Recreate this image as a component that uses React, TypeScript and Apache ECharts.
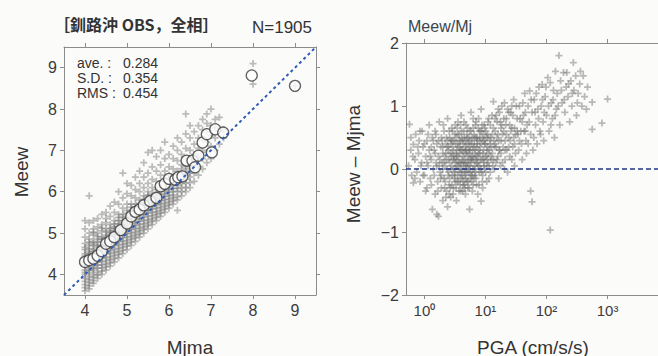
import React, { useEffect, useRef } from "react";
import * as echarts from "echarts";

// ---------- data ----------
const titleText = "［釧路沖 OBS，全相］";
const countText = "N=1905";
const statLabels = ["ave. :", "S.D. :", "RMS :"];
const statValues = ["0.284", "0.354", "0.454"];

const mjmaTicks = [4, 5, 6, 7, 8, 9];
const meewTicks = [4, 5, 6, 7, 8, 9];
const pgaTicks = [1, 10, 100, 1000];
const diffTicks = [-2, -1, 0, 1, 2];

// Mjma vs Meew, individual events (grey crosses)
const meewPoints: number[][] = [
  [4.0,3.6],[4.0,3.75],[4.0,3.9],[4.0,4.0],[4.0,4.1],[4.0,4.2],[4.0,4.3],[4.0,4.4],[4.0,4.5],[4.0,4.6],[4.0,4.75],[4.0,4.9],[4.0,5.1],
  [4.1,3.65],[4.1,3.8],[4.1,3.95],[4.1,4.05],[4.1,4.15],[4.1,4.25],[4.1,4.35],[4.1,4.45],[4.1,4.55],[4.1,4.7],[4.1,4.85],[4.1,5.0],[4.1,5.25],[4.1,5.9],
  [4.2,3.85],[4.2,4.0],[4.2,4.1],[4.2,4.2],[4.2,4.3],[4.2,4.4],[4.2,4.5],[4.2,4.6],[4.2,4.7],[4.2,4.8],[4.2,4.95],[4.2,5.1],[4.2,5.3],
  [4.3,3.9],[4.3,4.05],[4.3,4.15],[4.3,4.3],[4.3,4.4],[4.3,4.5],[4.3,4.6],[4.3,4.7],[4.3,4.85],[4.3,5.0],[4.3,5.15],[4.3,5.35],
  [4.4,4.0],[4.4,4.15],[4.4,4.3],[4.4,4.4],[4.4,4.5],[4.4,4.6],[4.4,4.7],[4.4,4.8],[4.4,4.9],[4.4,5.05],[4.4,5.2],[4.4,5.45],
  [4.5,4.1],[4.5,4.25],[4.5,4.4],[4.5,4.55],[4.5,4.65],[4.5,4.75],[4.5,4.85],[4.5,4.95],[4.5,5.1],[4.5,5.25],[4.5,5.5],
  [4.6,4.2],[4.6,4.35],[4.6,4.5],[4.6,4.65],[4.6,4.75],[4.6,4.85],[4.6,4.95],[4.6,5.05],[4.6,5.2],[4.6,5.4],[4.6,5.65],
  [4.7,4.3],[4.7,4.45],[4.7,4.6],[4.7,4.75],[4.7,4.85],[4.7,4.95],[4.7,5.05],[4.7,5.15],[4.7,5.3],[4.7,5.5],[4.7,5.75],
  [4.8,4.4],[4.8,4.55],[4.8,4.7],[4.8,4.85],[4.8,4.95],[4.8,5.05],[4.8,5.15],[4.8,5.3],[4.8,5.45],[4.8,5.7],[4.8,6.0],
  [4.9,4.5],[4.9,4.65],[4.9,4.8],[4.9,4.95],[4.9,5.1],[4.9,5.2],[4.9,5.3],[4.9,5.45],[4.9,5.6],[4.9,5.85],[4.9,6.45],
  [5.0,4.6],[5.0,4.75],[5.0,4.9],[5.0,5.05],[5.0,5.2],[5.0,5.3],[5.0,5.4],[5.0,5.55],[5.0,5.7],[5.0,5.95],[5.0,6.2],
  [5.1,4.7],[5.1,4.85],[5.1,5.0],[5.1,5.15],[5.1,5.3],[5.1,5.4],[5.1,5.55],[5.1,5.7],[5.1,5.9],[5.1,6.15],
  [5.2,4.8],[5.2,4.95],[5.2,5.1],[5.2,5.25],[5.2,5.4],[5.2,5.55],[5.2,5.7],[5.2,5.85],[5.2,6.05],[5.2,6.35],
  [5.3,4.9],[5.3,5.05],[5.3,5.2],[5.3,5.35],[5.3,5.5],[5.3,5.65],[5.3,5.8],[5.3,6.0],[5.3,6.2],[5.3,6.5],
  [5.4,5.0],[5.4,5.15],[5.4,5.3],[5.4,5.45],[5.4,5.6],[5.4,5.75],[5.4,5.9],[5.4,6.1],[5.4,6.35],[5.4,6.7],
  [5.5,5.1],[5.5,5.25],[5.5,5.4],[5.5,5.55],[5.5,5.7],[5.5,5.85],[5.5,6.0],[5.5,6.2],[5.5,6.45],[5.5,6.95],
  [5.6,5.2],[5.6,5.35],[5.6,5.5],[5.6,5.65],[5.6,5.8],[5.6,5.95],[5.6,6.1],[5.6,6.3],[5.6,6.6],[5.6,7.0],
  [5.7,5.3],[5.7,5.45],[5.7,5.6],[5.7,5.75],[5.7,5.9],[5.7,6.05],[5.7,6.25],[5.7,6.5],[5.7,6.85],
  [5.8,5.4],[5.8,5.55],[5.8,5.7],[5.8,5.85],[5.8,6.0],[5.8,6.2],[5.8,6.4],[5.8,6.65],[5.8,7.0],
  [5.9,5.5],[5.9,5.65],[5.9,5.8],[5.9,5.95],[5.9,6.1],[5.9,6.3],[5.9,6.5],[5.9,6.8],[5.9,7.2],
  [6.0,5.6],[6.0,5.75],[6.0,5.9],[6.0,6.05],[6.0,6.2],[6.0,6.4],[6.0,6.6],[6.0,6.9],
  [6.1,5.7],[6.1,5.85],[6.1,6.0],[6.1,6.15],[6.1,6.35],[6.1,6.55],[6.1,6.8],[6.1,7.1],
  [6.2,5.55],[6.2,5.8],[6.2,6.0],[6.2,6.15],[6.2,6.3],[6.2,6.5],[6.2,6.75],[6.2,7.0],[6.2,7.3],
  [6.3,5.9],[6.3,6.1],[6.3,6.3],[6.3,6.45],[6.3,6.65],[6.3,6.9],[6.3,7.2],
  [6.4,6.0],[6.4,6.2],[6.4,6.4],[6.4,6.6],[6.4,6.8],[6.4,7.05],[6.4,7.4],[6.4,7.88],
  [6.5,6.1],[6.5,6.35],[6.5,6.55],[6.5,6.75],[6.5,7.0],[6.5,7.3],[6.5,7.6],
  [6.6,6.25],[6.6,6.45],[6.6,6.7],[6.6,6.9],[6.6,7.15],[6.6,7.45],
  [6.7,6.4],[6.7,6.6],[6.7,6.85],[6.7,7.05],[6.7,7.3],[6.7,7.6],
  [6.8,6.55],[6.8,6.8],[6.8,7.0],[6.8,7.25],[6.8,7.5],[6.8,7.75],
  [6.9,6.7],[6.9,6.95],[6.9,7.2],[6.9,7.45],[6.9,7.65],[6.9,7.88],
  [7.0,6.8],[7.0,7.1],[7.0,7.35],[7.0,7.6],[7.0,8.0],
  [7.1,7.0],[7.1,7.3],[7.1,7.55],[7.1,7.75],
  [7.2,7.15],[7.2,7.45],[7.2,7.8],
  [7.3,7.3],[7.3,7.5],
  [8.0,8.6],[8.0,9.1],[9.0,8.56],
  [4.0,3.68],[4.0,3.83],[4.0,4.05],[4.0,4.25],[4.0,4.45],[4.0,4.65],[4.0,5.3],
  [4.1,3.72],[4.1,3.88],[4.1,4.1],[4.1,4.3],[4.1,4.5],[4.1,4.62],[4.1,4.78],
  [4.2,3.78],[4.2,3.93],[4.2,4.15],[4.2,4.35],[4.2,4.55],[4.2,4.75],[4.2,5.02],
  [4.3,3.98],[4.3,4.22],[4.3,4.43],[4.3,4.65],[4.3,4.78],[4.3,4.92],
  [4.4,4.08],[4.4,4.23],[4.4,4.45],[4.4,4.65],[4.4,4.85],[4.4,5.12],
  [4.5,4.18],[4.5,4.33],[4.5,4.5],[4.5,4.7],[4.5,4.9],[4.5,5.02],[4.5,5.35],
  [4.6,4.28],[4.6,4.43],[4.6,4.58],[4.6,4.8],[4.6,5.0],[4.6,5.12],
  [4.7,4.38],[4.7,4.53],[4.7,4.7],[4.7,4.9],[4.7,5.1],[4.7,5.22],
  [4.8,4.48],[4.8,4.63],[4.8,4.8],[4.8,5.0],[4.8,5.22],[4.8,5.38],
  [4.9,4.58],[4.9,4.73],[4.9,4.88],[4.9,5.02],[4.9,5.25],[4.9,5.38],
  [5.0,4.68],[5.0,4.82],[5.0,4.98],[5.0,5.12],[5.0,5.35],[5.0,5.48],
  [5.1,4.78],[5.1,4.92],[5.1,5.08],[5.1,5.22],[5.1,5.48],[5.1,5.62],
  [5.2,4.88],[5.2,5.02],[5.2,5.18],[5.2,5.33],[5.2,5.48],[5.2,5.62],
  [5.3,4.98],[5.3,5.12],[5.3,5.28],[5.3,5.42],[5.3,5.58],[5.3,5.72],
  [5.4,5.08],[5.4,5.22],[5.4,5.38],[5.4,5.52],[5.4,5.68],[5.4,5.82],
  [5.5,5.18],[5.5,5.32],[5.5,5.48],[5.5,5.62],[5.5,5.78],[5.5,5.92],
  [5.6,5.28],[5.6,5.42],[5.6,5.58],[5.6,5.72],[5.6,5.88],
  [5.7,5.38],[5.7,5.52],[5.7,5.68],[5.7,5.82],[5.7,5.98],
  [5.8,5.48],[5.8,5.62],[5.8,5.78],[5.8,5.92],[5.8,6.1],
  [5.9,5.58],[5.9,5.72],[5.9,5.88],[5.9,6.02],[5.9,6.2],
  [6.0,5.68],[6.0,5.82],[6.0,5.98],[6.0,6.12],[6.0,6.3],
  [6.1,5.78],[6.1,5.92],[6.1,6.08],[6.1,6.25],
  [6.2,5.88],[6.2,6.08],[6.2,6.22],[6.2,6.4],
  [6.3,6.0],[6.3,6.2],[6.3,6.38],[6.3,6.55],
  [6.4,6.1],[6.4,6.3],[6.4,6.5],
  [6.5,6.22],[6.5,6.45],[6.5,6.65]
];

// bin means (open circles)
const meanPoints: number[][] = [
  [4.0,4.30],[4.1,4.34],[4.2,4.38],[4.3,4.45],[4.4,4.56],[4.5,4.74],[4.6,4.80],[4.7,4.90],
  [4.85,5.07],[5.0,5.23],[5.1,5.40],[5.2,5.51],[5.3,5.57],[5.4,5.67],[5.55,5.77],[5.7,5.85],
  [5.8,6.13],[5.9,6.19],[6.0,6.31],[6.15,6.29],[6.22,6.35],[6.32,6.37],[6.42,6.75],[6.56,6.75],
  [6.62,6.59],[6.7,6.87],[6.8,7.19],[6.9,7.39],[7.02,6.95],[7.1,7.51],[7.29,7.43],
  [7.97,8.81],[9.0,8.56]
];

// PGA (cm/s/s) vs Meew - Mjma
const diffPoints: number[][] = [
  [0.55,0.05],[0.57,0.71],[0.6,0.3],[0.62,-0.1],[0.66,0.39],[0.66,-0.22],[0.7,0.15],[0.72,0.55],[0.75,-0.05],[0.8,0.25],[0.82,0.45],[0.85,-0.2],[0.9,0.1],[0.92,0.6],[0.95,0.35],
  [1.0,-0.1],[1.05,0.2],[1.1,0.45],[1.1,-0.3],[1.15,0.05],[1.2,0.3],[1.2,0.7],[1.25,-0.15],[1.3,0.15],[1.35,-0.64],[1.35,0.5],[1.4,0.0],[1.45,0.3],[1.5,-0.4],[1.5,0.6],[1.55,0.1],[1.6,-0.72],[1.6,0.4],[1.65,-0.2],[1.7,-0.75],[1.7,0.2],[1.75,0.75],[1.8,-0.05],[1.85,0.35],[1.9,-0.3],[1.9,0.5],[1.95,0.1],
  [2.0,-0.5],[2.0,0.25],[2.1,-0.15],[2.1,0.6],[2.2,0.05],[2.2,0.4],[2.3,-0.35],[2.3,0.15],[2.4,-0.6],[2.4,0.8],[2.45,0.3],[2.5,-0.05],[2.55,-0.25],[2.6,0.5],[2.6,0.1],[2.7,-0.45],[2.75,0.2],[2.8,0.65],[2.85,-0.1],[2.9,0.35],[3.0,-0.3],[3.0,0.0],[3.05,0.45],[3.1,0.15],[3.2,-0.2],[3.2,0.7],[3.3,0.25],[3.35,-0.5],[3.4,0.05],[3.5,0.4],[3.5,-0.1],[3.6,0.2],[3.7,-0.35],[3.7,0.55],[3.8,0.1],[3.9,-0.15],[3.9,0.3],[4.0,0.85],[4.1,0.0],[4.2,0.45],[4.3,-0.25],[4.3,0.2],[4.4,0.6],[4.5,-0.05],[4.6,0.35],[4.7,-0.4],[4.7,0.1],[4.8,0.7],[4.9,0.25],[5.0,-0.2],
  [5.0,0.5],[5.2,0.05],[5.3,0.3],[5.4,-0.3],[5.5,-0.64],[5.5,0.6],[5.7,0.15],[5.8,0.9],[5.9,-0.1],[6.0,0.4],[6.2,0.2],[6.3,-0.25],[6.5,0.55],[6.6,0.0],[6.8,0.3],[7.0,0.75],[7.0,-0.15],[7.2,0.1],[7.4,0.45],[7.5,-0.4],[7.7,0.25],[7.9,0.6],[8.0,0.05],[8.2,0.35],[8.5,-0.51],[8.5,0.95],[8.7,0.15],[8.9,0.5],[9.0,-0.1],[9.3,0.3],[9.5,0.7],[9.7,0.0],[10,0.4],[10.3,0.2],[10.5,-0.2],[10.8,0.55],[11,0.1],[11.3,0.8],[11.6,0.3],[12,-0.05],[12.3,0.5],
  [13,0.25],[13.5,0.65],[13.5,1.07],[14,0.0],[14.5,0.4],[15,0.85],[15.5,0.15],[16,0.55],[16.5,-0.15],[17,0.3],[17.5,0.75],[18,0.45],[18.5,1.0],[19,0.1],[20,0.6],[20.5,1.05],[21,0.3],[22,0.8],[23,-0.05],[24,0.5],[25,0.2],[26,0.9],[27,0.65],[28,0.35],[29,1.1],[30,0.05],[31,0.55],
  [33,0.8],[35,0.3],[36,1.0],[38,0.6],[40,0.15],[42,0.85],[44,1.2],[46,0.45],[48,0.7],[50,1.0],[53,1.24],[55,-0.35],[55,0.55],[58,-0.52],[58,0.9],[60,0.3],[63,1.1],[66,0.7],[70,0.4],[72,0.95],[75,1.3],[78,0.6],
  [82,1.0],[85,1.34],[88,0.75],[90,0.45],[95,1.15],[100,0.85],[105,1.45],[110,0.6],[115,-0.97],[115,1.37],[120,1.05],[125,0.8],[130,1.25],[135,0.5],[140,1.55],[145,0.95],[150,1.2],[160,1.8],[165,0.7],[170,1.4],[180,1.05],[190,1.53],
  [200,0.9],[210,1.3],[215,1.53],[225,1.15],[240,0.75],[250,1.4],[260,1.0],[275,1.69],[280,1.25],[300,1.48],[310,0.85],[330,1.2],[350,1.35],[380,1.0],[400,1.48],[420,1.15],[450,0.95],[470,1.3],
  [560,0.63],[560,1.06],[810,0.73],[1000,1.11],
  [2.2,-0.2],[2.5,0.35],[2.8,0.05],[3.1,-0.05],[3.3,0.5],[3.6,-0.2],[3.8,0.35],[4.0,0.1],[4.2,-0.1],[4.5,0.25],[4.8,-0.15],[5.1,0.2],[5.4,0.45],[5.7,-0.05],[6.0,0.15],[6.4,0.35],[6.7,-0.1],[7.1,0.2],[7.6,0.05],[8.1,0.25],[8.6,-0.05],[9.2,0.15],[9.8,0.4],[10.5,0.05],[11.2,0.25],[12,0.45],
  [2.3,0.5],[2.9,0.6],[3.4,0.3],[4.1,0.5],[4.9,0.4],[5.6,0.3],[6.3,0.65],[7.3,0.5],[8.3,0.6],[9.4,0.55],[10.8,0.35],[12.5,0.15],[14,0.35],[16,0.2],[18,0.65],[21,0.45],[25,0.7],[30,0.4],
  [2.0,0.0],[2.6,-0.15],[3.2,0.1],[3.9,0.7],[4.6,-0.3],[5.3,-0.05],[6.1,-0.35],[7.8,-0.25],[9.0,-0.3],[1.8,0.15],[1.5,0.25],[1.3,0.35],[2.7,0.4],[3.5,0.55],[4.4,-0.2],
  [1.6,0.05],[1.7,0.45],[1.9,-0.1],[2.0,0.35],[2.1,0.1],[2.15,-0.3],[2.25,0.25],[2.35,0.0],[2.4,0.45],[2.5,0.15],[2.55,-0.4],[2.65,0.25],[2.7,0.0],[2.8,-0.25],[2.85,0.45],[2.95,0.15],[3.0,0.3],[3.1,-0.15],[3.15,0.55],[3.25,0.0],[3.3,-0.3],[3.4,0.2],[3.45,0.65],[3.55,0.05],[3.6,0.35],[3.7,-0.05],[3.75,0.25],[3.85,-0.25],[3.9,0.45],[4.0,-0.05],[4.05,0.3],[4.15,0.15],[4.25,-0.35],[4.3,0.4],[4.4,0.05],[4.5,0.5],[4.55,0.15],[4.65,-0.1],[4.75,0.3],[4.85,0.05],[4.95,0.55],[5.05,0.1],[5.15,-0.3],[5.25,0.4],[5.35,0.15],[5.45,0.25],[5.6,0.05],[5.75,0.45],[5.85,0.2],[5.95,-0.2],[6.1,0.5],[6.25,0.0],[6.4,0.15],[6.55,0.4],[6.7,0.25],[6.9,-0.05],[7.0,0.5],[7.2,0.35],[7.4,0.1],[7.6,0.65],[7.8,0.3],[8.0,0.45],[8.3,0.15],[8.6,0.4],[8.8,0.7],[9.1,0.25],[9.4,0.05],[9.6,0.45],[9.9,0.2],[10.2,0.6],[10.6,0.3],[11,0.5],[11.5,0.05],[12,0.7],[12.5,0.35],[13,0.55],[13.5,0.15],[14.5,0.6],[15,0.35],[15.5,0.75],[16.5,0.45],[17,0.9],[18,0.25],[19,0.55],[20,0.8],[21,0.15],[22,0.55],[23,0.95],[24,0.35],[26,0.6],[27,0.15],[28,0.85],[30,0.65],[32,1.0],[34,0.55],[37,0.8],[39,0.4],[41,1.05],[43,0.6],[45,0.9],[47,0.25],[52,0.75],[56,1.1],[62,0.5],[65,0.9],[68,1.2],[74,0.8],[80,0.55],[86,1.1],[92,0.9],[98,1.3],[108,1.0],[118,0.7],[128,1.1],[138,0.85],[155,1.0],[175,1.25],[195,1.1],[230,1.35],[265,1.2],[320,1.05],[360,1.55],
  [1.55,0.55],[1.65,-0.35],[1.75,0.05],[1.85,-0.15],[1.95,0.45],[2.05,0.7],[2.15,0.2],[2.25,-0.45],[2.35,0.35],[2.45,-0.1],[2.55,0.6],[2.65,-0.3],[2.75,0.45],[2.85,0.25],[2.95,-0.4],[3.05,0.2],[3.15,-0.1],[3.25,0.4],[3.35,0.15],[3.45,-0.2],[3.55,0.75],[3.65,0.1],[3.75,0.45],[3.85,0.0],[3.95,-0.35],[4.05,0.6],[4.15,-0.15],[4.25,0.3],[4.35,0.1],[4.45,0.75],[4.55,-0.25],[4.65,0.45],[4.75,0.0],[4.85,0.3],[4.95,-0.05],[5.1,0.65],[5.2,-0.2],[5.3,0.5],[5.45,0.0],[5.55,0.35],[5.65,-0.15],[5.8,0.6],[5.9,0.1],[6.05,-0.1],[6.15,0.3],[6.3,0.8],[6.45,-0.15],[6.6,0.5],[6.75,0.05],[6.85,0.7],[7.0,0.15],[7.15,-0.25],[7.3,0.4],[7.5,0.2],[7.7,0.8],[7.9,-0.05],[8.1,0.5],[8.4,0.0],[8.7,0.6],[8.9,-0.2],[9.2,0.45],[9.5,0.1],[9.8,0.65],[10.1,-0.05],[10.4,0.5],[10.7,0.15],[11,0.75],[11.4,-0.15],[11.8,0.4],[12.2,0.2],[12.8,0.85],[13.2,0.05],[13.8,0.45],[14.3,0.8],[14.8,0.1],[15.4,0.5],[16.2,0.95],[16.8,0.3],[17.6,0.05],[18.4,0.7],[19.5,0.35],[20.5,0.0],[21.5,0.7],[22.5,0.3],[24,0.9],[25.5,0.45],[27,1.0],[29,0.5],[31,0.25],[33,0.6],[36,0.45],[40,0.75],[45,0.6],[50,0.4],
  [0.6,0.5],[0.65,0.2],[0.7,-0.15],[0.78,0.35],[0.85,0.6],[0.88,0.05],[0.95,-0.1],[1.0,0.4],[1.05,-0.35],[1.1,0.1],[1.15,0.55],[1.25,0.2],[1.3,-0.25],[1.4,0.45],[1.45,-0.1]
];

const oneToOne: number[][] = [[3.5, 3.5], [9.5, 9.5]];
const zeroLine: number[][] = [[0.5, 0], [6700, 0]];

// ---------- styling ----------
const FONT = "'Liberation Sans', Arial, sans-serif";
const AX = "#8c8c8c";
const LBL = "#3c3c3c";
const PLUS = "path://M3,0H5V3H8V5H5V8H3V5H0V3H3Z";
const SUP = ["⁰", "¹", "²", "³"];

function valueAxis(gridIndex: number, position: string, min: number, max: number, ticks: number[], showLabel: boolean, extra: any = {}) {
  return {
    type: "value",
    gridIndex,
    position,
    min,
    max,
    splitLine: { show: false },
    axisLine: { show: true, onZero: false, lineStyle: { color: AX, width: 1 } },
    axisTick: { show: true, inside: false, length: 4, customValues: ticks, lineStyle: { color: AX } },
    axisLabel: {
      show: showLabel,
      customValues: ticks,
      fontSize: 16,
      color: LBL,
      fontFamily: FONT,
      margin: 7,
      formatter: (v: number) => (v < 0 ? "−" + Math.abs(v) : String(v)),
    },
    ...extra,
  };
}

function logAxis(gridIndex: number, position: string, showLabel: boolean) {
  return {
    type: "log",
    logBase: 10,
    gridIndex,
    position,
    min: 0.5,
    max: 6700,
    splitLine: { show: false },
    minorTick: { show: false },
    axisLine: { show: true, onZero: false, lineStyle: { color: AX, width: 1 } },
    axisTick: { show: true, inside: false, length: 4, customValues: pgaTicks, lineStyle: { color: AX } },
    axisLabel: {
      show: showLabel,
      customValues: pgaTicks,
      fontSize: 15,
      color: LBL,
      fontFamily: FONT,
      margin: 8,
      formatter: (v: number) => "10" + SUP[Math.round(Math.log10(v))],
    },
  };
}

export default function App() {
  const ref = useRef<HTMLDivElement>(null);
  useEffect(() => {
    if (!ref.current) return;
    const chart = echarts.init(ref.current, null, { renderer: "svg" });
    const option: any = {
      animation: false,
      backgroundColor: "#fbfbfa",
      grid: [
        { left: 64, top: 47, width: 252, height: 248 },
        { left: 406, top: 43, width: 260, height: 252 },
      ],
      xAxis: [
        valueAxis(0, "bottom", 3.5, 9.5, mjmaTicks, true),
        valueAxis(0, "top", 3.5, 9.5, mjmaTicks, false),
        logAxis(1, "bottom", true),
        logAxis(1, "top", false),
      ],
      yAxis: [
        valueAxis(0, "left", 3.5, 9.5, meewTicks, true),
        valueAxis(0, "right", 3.5, 9.5, meewTicks, false),
        valueAxis(1, "left", -2, 2, diffTicks, true, { interval: 1 }),
        valueAxis(1, "right", -2, 2, diffTicks, false, { interval: 1 }),
      ],
      series: [
        {
          type: "scatter",
          xAxisIndex: 0,
          yAxisIndex: 0,
          data: meewPoints,
          symbol: PLUS,
          symbolSize: 7,
          silent: true,
          itemStyle: { color: "rgba(105,105,105,0.55)" },
        },
        {
          type: "line",
          xAxisIndex: 0,
          yAxisIndex: 0,
          data: oneToOne,
          symbol: "none",
          silent: true,
          lineStyle: { color: "#2f5bb5", width: 2, type: [3, 3] },
        },
        {
          type: "scatter",
          xAxisIndex: 0,
          yAxisIndex: 0,
          data: meanPoints,
          symbol: "circle",
          symbolSize: 11,
          silent: true,
          itemStyle: { color: "#ffffff", borderColor: "#3a3a3a", borderWidth: 1.3 },
        },
        {
          type: "scatter",
          xAxisIndex: 2,
          yAxisIndex: 2,
          data: diffPoints,
          symbol: PLUS,
          symbolSize: 7,
          silent: true,
          itemStyle: { color: "rgba(110,110,110,0.6)" },
        },
        {
          type: "line",
          xAxisIndex: 2,
          yAxisIndex: 2,
          data: zeroLine,
          symbol: "none",
          silent: true,
          lineStyle: { color: "#25368a", width: 1.6, type: [5, 3] },
        },
      ],
      graphic: [
        { type: "text", left: 54, top: 16, style: { text: titleText, font: "bold 16px 'Noto Sans CJK JP'", fill: "#333" } },
        { type: "text", left: 252, top: 19, style: { text: countText, font: `17px ${FONT}`, fill: "#333" } },
        ...statLabels.map((t, i) => ({ type: "text", left: 77, top: 56 + i * 15, style: { text: t, font: `14px ${FONT}`, fill: "#333" } })),
        ...statValues.map((t, i) => ({ type: "text", left: 123, top: 56 + i * 15, style: { text: t, font: `14px ${FONT}`, fill: "#333" } })),
        { type: "text", left: 408, top: 18, style: { text: "Meew/Mj", font: `16px ${FONT}`, fill: "#3a4650" } },
        { type: "text", x: 21, y: 172, rotation: Math.PI / 2, style: { text: "Meew", font: `19px ${FONT}`, fill: "#333", align: "center", verticalAlign: "middle" } },
        { type: "text", x: 190, y: 347, style: { text: "Mjma", font: `19px ${FONT}`, fill: "#333", align: "center", verticalAlign: "middle" } },
        { type: "text", x: 353, y: 164, rotation: Math.PI / 2, style: { text: "Meew – Mjma", font: `19px ${FONT}`, fill: "#333", align: "center", verticalAlign: "middle" } },
        { type: "text", x: 533, y: 347, style: { text: "PGA (cm/s/s)", font: `19px ${FONT}`, fill: "#333", align: "center", verticalAlign: "middle" } },
      ],
    };
    chart.setOption(option);
    return () => chart.dispose();
  }, []);
  return <div ref={ref} style={{ position: "fixed", left: 0, top: 0, width: 658, height: 356 }} />;
}
